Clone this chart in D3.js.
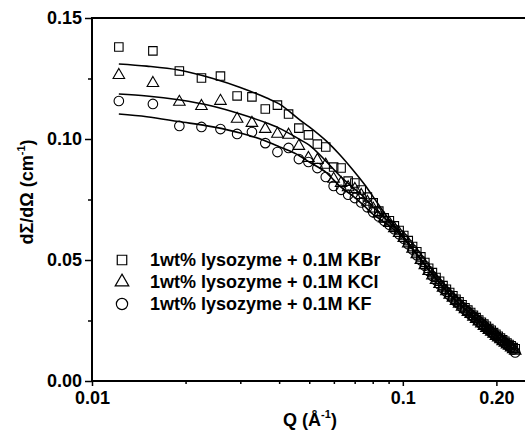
<!DOCTYPE html>
<html>
<head>
<meta charset="utf-8">
<script src="https://cdn.jsdelivr.net/npm/d3@7"></script>
<style>
  body { margin: 0; background: #fff; }
  text { font-family: 'Liberation Sans', Arial, sans-serif; font-weight: bold; fill: #000; }
</style>
</head>
<body>
<div id="chart"></div>
<script>
// measured Q values (1/A)
const qValues = [
  0.0122, 0.0157, 0.0191, 0.0225, 0.0259, 0.0293, 0.0327, 0.0361, 0.0395, 0.0429,
  0.0463, 0.0497, 0.0531, 0.0565, 0.0599, 0.0633, 0.0667, 0.0701, 0.0735, 0.0769,
  0.0803, 0.0837, 0.0871, 0.0905, 0.0939, 0.0973, 0.1007, 0.1041, 0.1075, 0.1109,
  0.1143, 0.1177, 0.1211, 0.1245, 0.1279, 0.1313, 0.1347, 0.1381, 0.1415, 0.1449,
  0.1483, 0.1517, 0.1551, 0.1585, 0.1619, 0.1653, 0.1687, 0.1721, 0.1755, 0.1789,
  0.1823, 0.1857, 0.1891, 0.1925, 0.1959, 0.1993, 0.2027, 0.2061, 0.2095, 0.2129,
  0.2163, 0.2197, 0.2231, 0.2265, 0.2299
]

const kbrValues = [
  0.1380, 0.1364, 0.1281, 0.1252, 0.1260, 0.1178, 0.1174, 0.1124, 0.1140, 0.1103,
  0.1045, 0.1017, 0.0979, 0.0967, 0.0884, 0.0880, 0.0826, 0.0818, 0.0789, 0.0760,
  0.0736, 0.0702, 0.0674, 0.0662, 0.0641, 0.0622, 0.0601, 0.0580, 0.0556, 0.0534,
  0.0513, 0.0490, 0.0466, 0.0448, 0.0428, 0.0412, 0.0394, 0.0379, 0.0366, 0.0352,
  0.0338, 0.0327, 0.0315, 0.0303, 0.0293, 0.0283, 0.0272, 0.0262, 0.0252, 0.0243,
  0.0235, 0.0226, 0.0217, 0.0210, 0.0200, 0.0193, 0.0185, 0.0178, 0.0170, 0.0164,
  0.0157, 0.0151, 0.0146, 0.0138, 0.0133
]

const kclValues = [
  0.1264, 0.1231, 0.1153, 0.1136, 0.1157, 0.1083, 0.1066, 0.1041, 0.1021, 0.1017,
  0.0971, 0.0921, 0.0913, 0.0893, 0.0835, 0.0818, 0.0800, 0.0793, 0.0768, 0.0740,
  0.0712, 0.0692, 0.0671, 0.0652, 0.0631, 0.0611, 0.0590, 0.0568, 0.0546, 0.0523,
  0.0500, 0.0478, 0.0454, 0.0436, 0.0417, 0.0400, 0.0385, 0.0370, 0.0356, 0.0344,
  0.0330, 0.0319, 0.0306, 0.0296, 0.0285, 0.0276, 0.0265, 0.0256, 0.0245, 0.0237,
  0.0227, 0.0219, 0.0210, 0.0203, 0.0195, 0.0186, 0.0179, 0.0172, 0.0164, 0.0158,
  0.0150, 0.0145, 0.0138, 0.0131, 0.0125
]

const kfValues = [
  0.1157, 0.1145, 0.1054, 0.1050, 0.1041, 0.1021, 0.1029, 0.0983, 0.0946, 0.0963,
  0.0917, 0.0905, 0.0880, 0.0843, 0.0806, 0.0790, 0.0770, 0.0756, 0.0738, 0.0718,
  0.0697, 0.0680, 0.0662, 0.0646, 0.0627, 0.0606, 0.0588, 0.0565, 0.0543, 0.0520,
  0.0499, 0.0476, 0.0455, 0.0434, 0.0416, 0.0399, 0.0382, 0.0369, 0.0354, 0.0342,
  0.0329, 0.0318, 0.0305, 0.0295, 0.0284, 0.0274, 0.0266, 0.0255, 0.0246, 0.0236,
  0.0228, 0.0218, 0.0211, 0.0202, 0.0196, 0.0187, 0.0178, 0.0171, 0.0165, 0.0157,
  0.0151, 0.0144, 0.0139, 0.0130, 0.0118
]

// fitted model curves
const fitQ = [
  0.0122, 0.015, 0.019, 0.0245, 0.030, 0.0365, 0.040, 0.0466, 0.050, 0.0569,
  0.0627, 0.069, 0.075, 0.080, 0.0886, 0.0978, 0.1134, 0.1221, 0.1385, 0.1559,
  0.1769, 0.2006, 0.2160, 0.2299
]
const kbrFit = [
  0.1310, 0.1301, 0.1285, 0.1250, 0.1213, 0.1169, 0.1145, 0.1079, 0.1050, 0.0990,
  0.0935, 0.0873, 0.0815, 0.0764, 0.0682, 0.0616, 0.0510, 0.0456, 0.0371, 0.0305,
  0.0245, 0.0185, 0.0152, 0.0127
]
const kclFit = [
  0.1186, 0.1178, 0.1162, 0.1135, 0.1103, 0.1066, 0.1045, 0.0998, 0.0975, 0.0905,
  0.0848, 0.0800, 0.0760, 0.0720, 0.0667, 0.0612, 0.0508, 0.0455, 0.0371, 0.0305,
  0.0245, 0.0185, 0.0152, 0.0127
]
const kfFit = [
  0.1103, 0.1092, 0.1072, 0.1050, 0.1025, 0.0990, 0.0968, 0.0930, 0.0905, 0.0860,
  0.0805, 0.0765, 0.0725, 0.0690, 0.0650, 0.0605, 0.0506, 0.0454, 0.0371, 0.0305,
  0.0245, 0.0185, 0.0152, 0.0127
]

const seriesNames = ['1wt% lysozyme + 0.1M KBr', '1wt% lysozyme + 0.1M KCl', '1wt% lysozyme + 0.1M KF']
const yTicks = [0, 0.05, 0.10, 0.15]
const yMinorTicks = [0.025, 0.075, 0.125]
const xTicks = [0.01, 0.1, 0.2]
const xTickLabels = ['0.01', '0.1', '0.20']
const xMinorTicks = [0.02, 0.03, 0.04, 0.05, 0.06, 0.07, 0.08, 0.09]

const width = 525
const height = 432
const plotLeft = 92
const plotTop = 18
const plotBottom = 381

const x = d3.scaleLog().domain([0.01, 0.24]).range([plotLeft, 521])
const y = d3.scaleLinear().domain([0, 0.15]).range([plotBottom, plotTop])

const svg = d3.select('#chart').append('svg')
  .attr('width', width)
  .attr('height', height)

// ticks
const yMajor = svg.append('g')
  .attr('transform', 'translate(' + plotLeft + ',0)')
  .call(d3.axisLeft(y).tickValues(yTicks).tickSize(7).tickPadding(3).tickFormat(d3.format('.2f')))
svg.append('g')
  .attr('transform', 'translate(' + plotLeft + ',0)')
  .call(d3.axisLeft(y).tickValues(yMinorTicks).tickSize(4).tickFormat(''))

const xMajor = svg.append('g')
  .attr('transform', 'translate(0,' + plotBottom + ')')
  .call(d3.axisBottom(x).tickValues(xTicks).tickSize(5).tickPadding(5)
    .tickFormat((d, i) => xTickLabels[i]))
svg.append('g')
  .attr('transform', 'translate(0,' + plotBottom + ')')
  .call(d3.axisBottom(x).tickValues(xMinorTicks).tickSize(3).tickFormat(''))

svg.selectAll('.domain').remove()
svg.selectAll('.tick line').attr('stroke', '#000').attr('stroke-width', 1.5)
yMajor.selectAll('text').attr('font-size', 18).attr('font-family', null)
xMajor.selectAll('text').attr('font-size', 18).attr('font-family', null)

// spines
const spine = [[plotLeft, plotTop, plotLeft, plotBottom + 1], [plotLeft - 1, plotBottom, width, plotBottom], [plotLeft - 1, plotTop, width, plotTop]]
svg.selectAll('line.spine')
  .data(spine)
  .enter().append('line')
  .attr('class', 'spine')
  .attr('x1', d => d[0]).attr('y1', d => d[1])
  .attr('x2', d => d[2]).attr('y2', d => d[3])
  .attr('stroke', '#000')
  .attr('stroke-width', 2)

// fit lines
const line = d3.line()
  .x(d => x(d[0]))
  .y(d => y(d[1]))
  .curve(d3.curveMonotoneX)

const fits = [kbrFit, kclFit, kfFit]
svg.selectAll('path.fit')
  .data(fits)
  .enter().append('path')
  .attr('class', 'fit')
  .attr('fill', 'none')
  .attr('stroke', '#000')
  .attr('stroke-width', 1.6)
  .attr('d', vals => line(fitQ.map((q, i) => [q, vals[i]])))

// data points
const shapes = [d3.symbolSquare, d3.symbolTriangle, d3.symbolCircle]
const sizes = [72, 58, 72]
const series = [kbrValues, kclValues, kfValues]

series.forEach((vals, s) => {
  const sym = d3.symbol().type(shapes[s]).size(sizes[s])
  svg.append('g')
    .selectAll('path')
    .data(qValues.map((q, i) => [q, vals[i]]))
    .enter().append('path')
    .attr('transform', d => 'translate(' + x(d[0]) + ',' + y(d[1]) + ')')
    .attr('d', sym)
    .attr('fill', 'none')
    .attr('stroke', '#000')
    .attr('stroke-width', 1.1)
})

// legend
const legendSizes = [90, 80, 100]
const legend = svg.append('g')
  .selectAll('g')
  .data(seriesNames)
  .enter().append('g')
  .attr('transform', (d, i) => 'translate(122,' + (260 + i * 22) + ')')
legend.append('path')
  .attr('d', (d, i) => d3.symbol().type(shapes[i]).size(legendSizes[i])())
  .attr('fill', 'none')
  .attr('stroke', '#000')
  .attr('stroke-width', 1.2)
legend.append('text')
  .attr('x', 28)
  .attr('dy', '0.36em')
  .attr('font-size', 18)
  .text(d => d)

// axis titles
const xTitle = svg.append('text')
  .attr('x', 310)
  .attr('y', 426)
  .attr('text-anchor', 'middle')
  .attr('font-size', 18)
xTitle.append('tspan').text('Q (\u00C5')
xTitle.append('tspan').attr('font-size', 11).attr('dy', -8).text('-1')
xTitle.append('tspan').attr('dy', 8).text(')')

const yTitle = svg.append('text')
  .attr('transform', 'translate(33,192) rotate(-90)')
  .attr('text-anchor', 'middle')
  .attr('font-size', 18)
yTitle.append('tspan').text('d\u03A3/d\u03A9 (cm')
yTitle.append('tspan').attr('font-size', 11).attr('dy', -8).text('-1')
yTitle.append('tspan').attr('dy', 8).text(')')
</script>
</body>
</html>
